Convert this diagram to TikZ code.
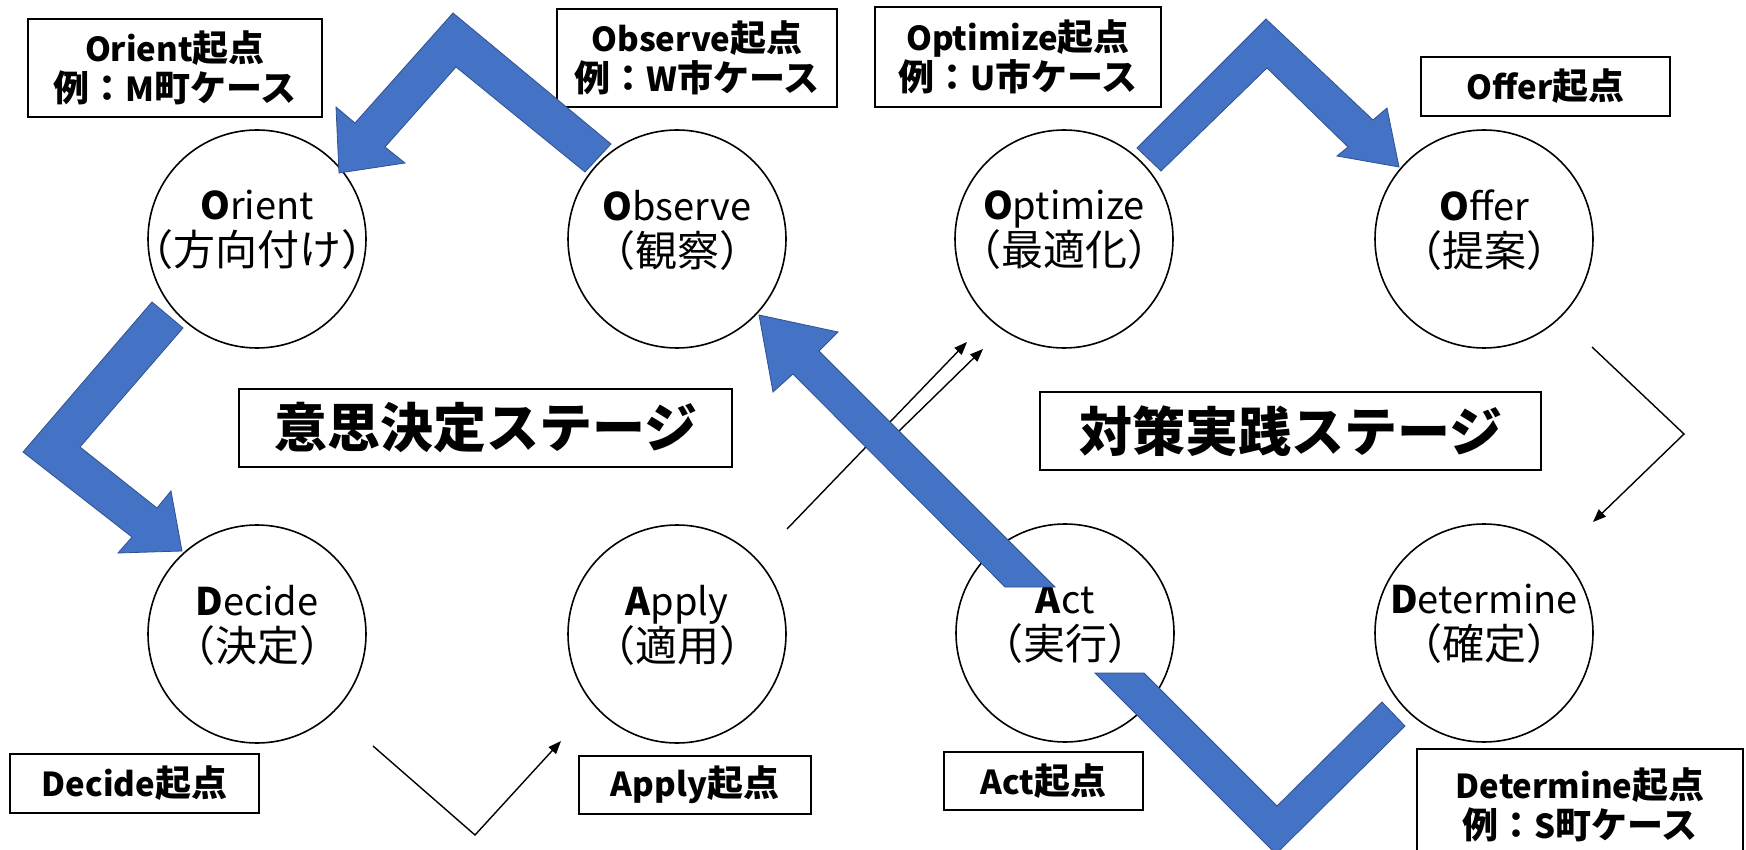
\documentclass[tikz,border=0pt]{standalone}
\usepackage{fontspec}
\setmainfont{Noto Sans CJK JP}
\usetikzlibrary{arrows.meta}
\definecolor{bfill}{HTML}{4472C4}
\definecolor{bedge}{HTML}{2F528F}
\newcommand{\cjkline}[1]{{\fontsize{42}{46}\selectfont #1}}
\newcommand{\lblcjk}[1]{{\fontsize{36}{40}\selectfont #1}}
\tikzset{
  circ/.style={circle, draw=black, line width=1.6pt, minimum size=218pt, inner sep=0pt},
  ctext/.style={align=center, font=\fontsize{38}{46}\selectfont, inner sep=0pt},
  lbl/.style={draw=black, line width=2pt, align=center, inner sep=0pt, font=\bfseries\fontsize{33}{40}\selectfont},
  stagebox/.style={draw=black, line width=2pt, align=center, inner sep=0pt, font=\bfseries\fontsize{53}{60}\selectfont},
  blk/.style={fill=bfill, draw=bedge, line width=0.8pt, line join=miter},
  thinarr/.style={draw=black, line width=1.4pt, -{Triangle[length=13pt,width=10pt]}},
}
\begin{document}
\begin{tikzpicture}[x=1pt,y=-1pt]
\clip (0,0) rectangle (1746,850);
\fill[white] (0,0) rectangle (1746,850);

% circles
\node[circ] (orient) at (257,239) {};
\node[circ] (observe) at (677,239) {};
\node[circ] (optimize) at (1064,239) {};
\node[circ] (offer) at (1484,239) {};
\node[circ] (decide) at (257,634) {};
\node[circ] (apply) at (677,634) {};
\node[circ] (act) at (1065,633) {};
\node[circ] (determine) at (1484,633) {};

\node[ctext] (orientT) at ([yshift=9pt]orient.center) {\textbf{O}rient\\\cjkline{（方向付け）}};
\node[ctext] (observeT) at ([yshift=9pt]observe.center) {\textbf{O}bserve\\\cjkline{（観察）}};
\node[ctext] (optimizeT) at ([yshift=9pt]optimize.center) {\textbf{O}ptimize\\\cjkline{（最適化）}};
\node[ctext] (offerT) at ([yshift=9pt]offer.center) {\textbf{O}ffer\\\cjkline{（提案）}};
\node[ctext] (decideT) at ([yshift=9pt]decide.center) {\textbf{D}ecide\\\cjkline{（決定）}};
\node[ctext] (applyT) at ([yshift=9pt]apply.center) {\textbf{A}pply\\\cjkline{（適用）}};
\node[ctext] (actT) at ([yshift=9pt]act.center) {\textbf{A}ct\\\cjkline{（実行）}};
\node[ctext] (determineT) at ([yshift=9pt]determine.center) {\textbf{D}etermine\\\cjkline{（確定）}};

% labels
\node[lbl, minimum width=294pt, minimum height=98pt] (lorient) at (175,68) {Orient\lblcjk{起点}\\\lblcjk{例：}M\lblcjk{町ケース}};
\node[lbl, minimum width=280pt, minimum height=98pt] (lobserve) at (697,58) {Observe\lblcjk{起点}\\\lblcjk{例：}W\lblcjk{市ケース}};
\node[lbl, minimum width=286pt, minimum height=100pt] (loptimize) at (1018,57) {Optimize\lblcjk{起点}\\\lblcjk{例：}U\lblcjk{市ケース}};
\node[lbl, minimum width=249pt, minimum height=59pt] (loffer) at (1545.5,86.5) {Offer\lblcjk{起点}};
\node[lbl, minimum width=249pt, minimum height=59pt] (ldecide) at (134.5,783.5) {Decide\lblcjk{起点}};
\node[lbl, minimum width=232pt, minimum height=58pt] (lapply) at (695,785) {Apply\lblcjk{起点}};
\node[lbl, minimum width=199pt, minimum height=58pt] (lact) at (1043.5,781) {Act\lblcjk{起点}};
\node[lbl, minimum width=326pt, minimum height=112pt] (ldetermine) at (1580,805) {Determine\lblcjk{起点}\\\lblcjk{例：}S\lblcjk{町ケース}};

\node[stagebox, minimum width=493pt, minimum height=78pt] (stage1) at (485.5,428) {意思決定ステージ};
\node[stagebox, minimum width=501pt, minimum height=78pt] (stage2) at (1290.5,431) {対策実践ステージ};

% thin arrows
\coordinate (t1a) at (373,746);
\coordinate (t1b) at (475,835);
\coordinate (t1c) at (561,741);
\draw[thinarr] (t1a) -- (t1b) -- (t1c);
\coordinate (t2a) at (787,529);
\coordinate (t2b) at (967,342);
\draw[thinarr] (t2a) -- (t2b);
\coordinate (t3a) at (897,433);
\coordinate (t3b) at (983,349);
\draw[thinarr] (t3a) -- (t3b);
\coordinate (t4a) at (1592,347);
\coordinate (t4b) at (1684,434);
\coordinate (t4c) at (1593,522);
\draw[thinarr] (t4a) -- (t4b) -- (t4c);

% blue block arrows
% Observe -> Orient
\filldraw[blk] (611,144) -- (453,13) -- (355,123) -- (336,107) -- (339,173) -- (405,163) -- (385,147) -- (456,67) -- (585,172) -- cycle;
% Orient -> Decide
\filldraw[blk] (152,302) -- (23,452) -- (132,537) -- (118,553) -- (182,551) -- (171,491) -- (157,508) -- (80,447) -- (183,328) -- cycle;
% Act -> Observe
\filldraw[blk] (1005,587) -- (793,374) -- (773,392) -- (759,315) -- (838,332) -- (819,351) -- (1055,587) -- cycle;
% Optimize -> Offer
\filldraw[blk] (1137,148) -- (1266,19) -- (1373,120) -- (1387,108) -- (1399,167) -- (1337,156) -- (1348,147) -- (1267,68) -- (1161,171) -- cycle;
% Act -> Determine
\filldraw[blk] (1095,673) -- (1276,854) -- (1405,726) -- (1382,702) -- (1277,806) -- (1144,673) -- cycle;
\end{tikzpicture}
\end{document}
